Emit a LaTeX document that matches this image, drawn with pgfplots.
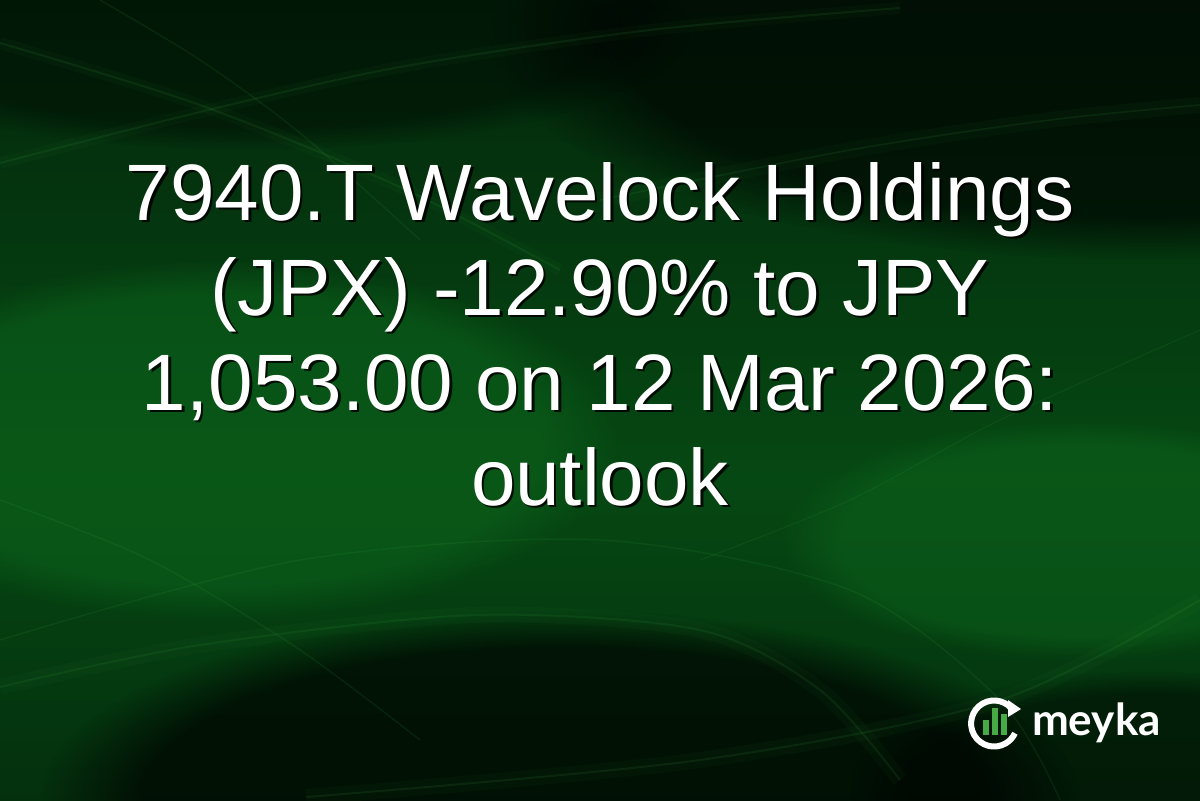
\documentclass[border=0pt]{standalone}
\usepackage{pgfplots}
\pgfplotsset{compat=1.18}
\usepackage{fontspec}
\setmainfont{Liberation Sans}
\newfontfamily\logofont{Lato}
\usetikzlibrary{fadings}

\definecolor{bgtop}{RGB}{1,10,3}
\definecolor{bgmid}{RGB}{3,42,12}
\definecolor{bglight}{RGB}{6,72,19}
\definecolor{bgbot}{RGB}{2,24,7}
\definecolor{glow}{RGB}{12,100,28}
\definecolor{streakc}{RGB}{60,180,70}
\definecolor{logogreen}{RGB}{70,170,70}

\pgfdeclareverticalshading{bgv}{100bp}{%
  color(0bp)=(bgbot); color(20bp)=(bgmid); color(45bp)=(bglight);
  color(72bp)=(bgmid); color(100bp)=(bgtop)}

% decorative light streaks, pixel coordinates (y down)
\pgfplotsset{
  streak/.style={smooth, no marks, line width=#1, streakc, opacity=0.11},
  halo/.style={smooth, no marks, line width=#1, streakc, opacity=0.04},
}
\tikzset{
  ttl/.style={anchor=base, text=white, font=\fontsize{40}{47}\selectfont},
  shd/.style={anchor=base, text=black, opacity=0.85, font=\fontsize{40}{47}\selectfont},
}

\begin{document}
\begin{tikzpicture}
\begin{axis}[
    width=600pt, height=400pt, scale only axis,
    xmin=0, xmax=1200, ymin=0, ymax=800, y dir=reverse,
    axis lines=none, clip=true,
]
% background
\shade[shading=bgv] (axis cs:0,0) rectangle (axis cs:1200,800);
% glows
\fill[glow, opacity=0.55, path fading=circle with fuzzy edge 20 percent]
  (axis cs:220,440) ellipse [x radius=200pt, y radius=90pt];
\fill[glow, opacity=0.5, path fading=circle with fuzzy edge 20 percent]
  (axis cs:1080,540) ellipse [x radius=150pt, y radius=60pt];
% dark areas
\fill[black, opacity=0.6, path fading=circle with fuzzy edge 20 percent]
  (axis cs:1150,40) ellipse [x radius=330pt, y radius=110pt];
\fill[black, opacity=0.4, path fading=circle with fuzzy edge 20 percent]
  (axis cs:250,30) ellipse [x radius=220pt, y radius=60pt];
\fill[black, opacity=0.65, path fading=circle with fuzzy edge 20 percent]
  (axis cs:560,800) ellipse [x radius=260pt, y radius=95pt];
\fill[black, opacity=0.45, path fading=circle with fuzzy edge 20 percent]
  (axis cs:1150,790) ellipse [x radius=150pt, y radius=60pt];

% streaks
\addplot[halo=6pt] coordinates {(0,43) (200,105) (400,187) (560,270)};
\addplot[streak=1pt] coordinates {(0,43) (200,105) (400,187) (560,270)};
\addplot[halo=6pt] coordinates {(0,163) (200,112) (400,67) (650,30) (900,8)};
\addplot[streak=1pt] coordinates {(0,163) (200,112) (400,67) (650,30) (900,8)};
\addplot[streak=0.7pt] coordinates {(100,0) (200,60) (300,133) (420,240)};
\addplot[halo=8pt] coordinates {(600,200) (850,150) (1050,120) (1200,105)};
\addplot[streak=0.8pt] coordinates {(600,200) (850,150) (1050,120) (1200,105)};
\addplot[halo=8pt] coordinates {(0,687) (200,645) (475,615) (700,630) (820,690) (900,780)};
\addplot[streak=1pt] coordinates {(0,687) (200,645) (475,615) (700,630) (820,690) (900,780)};
\addplot[halo=8pt] coordinates {(1200,600) (1000,700) (700,760) (306,797)};
\addplot[streak=1pt] coordinates {(1200,600) (1000,700) (700,760) (306,797)};
\addplot[streak=0.7pt] coordinates {(0,640) (300,560) (600,540) (850,590) (1000,700) (1060,800)};
\addplot[streak=0.7pt] coordinates {(0,500) (150,560) (300,650) (420,740)};
\addplot[streak=0.5pt] coordinates {(1200,330) (1000,420) (850,500) (700,560)};

% title, with shadow
\node[shd] at (axis cs:602.5,222.5) {7940.T Wavelock Holdings};
\node[ttl] at (axis cs:600,220) {7940.T Wavelock Holdings};
\node[shd] at (axis cs:602.5,317.5) {(JPX) -12.90\% to JPY};
\node[ttl] at (axis cs:600,315) {(JPX) -12.90\% to JPY};
\node[shd] at (axis cs:602.5,412.5) {1,053.00 on 12 Mar 2026:};
\node[ttl] at (axis cs:600,410) {1,053.00 on 12 Mar 2026:};
\node[shd] at (axis cs:602.5,507.5) {outlook};
\node[ttl] at (axis cs:600,505) {outlook};

% logo
\fill[logogreen] (axis cs:983,735) rectangle (axis cs:989,720);
\fill[logogreen] (axis cs:992,735) rectangle (axis cs:998,708);
\fill[logogreen] (axis cs:1001,735) rectangle (axis cs:1007,714);
\draw[white, line width=3pt] (axis cs:1014,712) arc[start angle=30, end angle=335, radius=11.5pt];
\fill[white] (axis cs:1008,700) -- (axis cs:1021,709) -- (axis cs:1008,717) -- cycle;
\node[anchor=base west, text=white, font=\logofont\bfseries\fontsize{22}{24}\selectfont]
  at (axis cs:1025,735) {meyka};
\end{axis}
\end{tikzpicture}
\end{document}
